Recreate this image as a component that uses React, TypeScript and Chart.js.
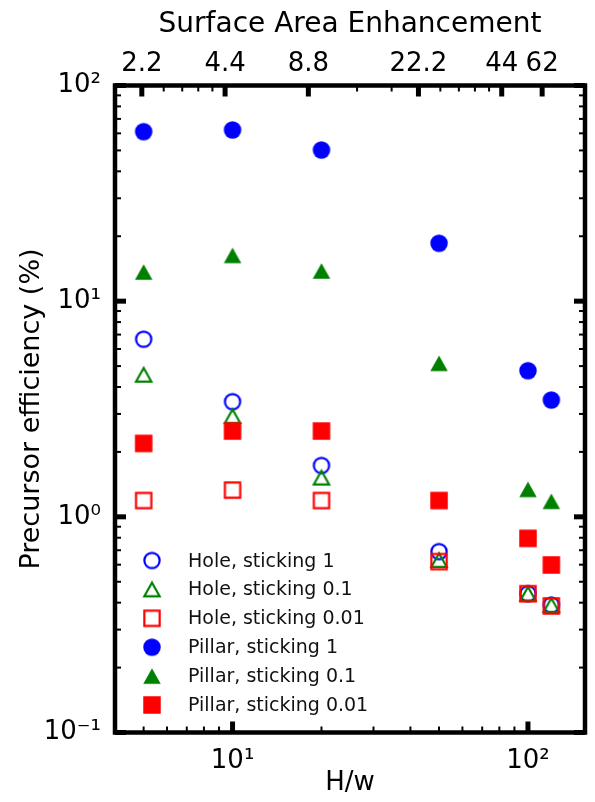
import React, { useEffect, useRef } from 'react';
import { Chart, registerables } from 'chart.js';

Chart.register(...registerables);

// ---------------- data ----------------
const hw = [5, 10, 20, 50, 100, 120];
const holeS1 = [6.66, 3.42, 1.73, 0.69, 0.44, 0.39];
const holeS01 = [4.56, 2.93, 1.52, 0.63, 0.44, 0.39];
const holeS001 = [1.19, 1.33, 1.19, 0.62, 0.44, 0.386];
const pillarS1 = [61.1, 62.2, 50.2, 18.55, 4.76, 3.48];
const pillarS01 = [13.65, 16.3, 13.8, 5.15, 1.34, 1.18];
const pillarS001 = [2.19, 2.5, 2.5, 1.19, 0.795, 0.598];

const seriesLabels = [
  'Hole, sticking 1',
  'Hole, sticking 0.1',
  'Hole, sticking 0.01',
  'Pillar, sticking 1',
  'Pillar, sticking 0.1',
  'Pillar, sticking 0.01',
];
const seriesValues = [holeS1, holeS01, holeS001, pillarS1, pillarS01, pillarS001];
const seriesColors = ['#0000ff', '#008000', '#ff0000', '#0000ff', '#008000', '#ff0000'];
const seriesShapes = ['circle', 'triangle', 'square', 'circle', 'triangle', 'square'];
const seriesFilled = [false, false, false, true, true, true];

// axes
const xMin = 4;
const xMax = 156;
const topMin = 4;
const topMax = 200;
const yMin = 0.1;
const yMax = 100;

const bottomTickVals = [10, 100];
const bottomTickLabels = ['10\u00B9', '10\u00B2'];
const leftTickVals = [0.1, 1, 10, 100];
const leftTickLabels = ['10\u207B\u00B9', '10\u2070', '10\u00B9', '10\u00B2'];
const topTickVals = [5, 10, 20, 50, 100, 140];
const topTickLabels = ['2.2', '4.4', '8.8', '22.2', '44', '62'];
const bottomMinor = [5, 6, 7, 8, 9, 20, 30, 40, 50, 60, 70, 80, 90];
const topMinor = [6, 7, 8, 9, 30, 40, 60, 70, 80, 90];
const leftMinor = [
  0.2, 0.3, 0.4, 0.5, 0.6, 0.7, 0.8, 0.9,
  2, 3, 4, 5, 6, 7, 8, 9,
  20, 30, 40, 50, 60, 70, 80, 90,
];

const FONT = "'DejaVu Sans', sans-serif";

function makeMarker(shape: string, color: string, filled: boolean) {
  const S = 26;
  const c = document.createElement('canvas');
  c.width = S;
  c.height = S;
  const g = c.getContext('2d') as CanvasRenderingContext2D;
  const m = S / 2;
  const lw = 2.2;
  const outer = 17.5;
  const r = filled ? outer / 2 : (outer - lw) / 2;
  g.beginPath();
  if (shape === 'circle') {
    g.arc(m, m, r, 0, Math.PI * 2);
  } else if (shape === 'square') {
    g.rect(m - r, m - r, 2 * r, 2 * r);
  } else {
    const hh = r * (15.5 / 17.5);
    g.moveTo(m, m - hh);
    g.lineTo(m + r, m + hh);
    g.lineTo(m - r, m + hh);
    g.closePath();
  }
  if (filled) {
    g.fillStyle = color;
    g.fill();
  } else {
    g.lineWidth = lw;
    g.strokeStyle = color;
    g.stroke();
  }
  return c;
}

const framePlugin = {
  id: 'frameTicks',
  beforeDatasetsDraw(chart: any) {
    const { ctx, chartArea: a, scales } = chart;
    const majorLen = 11;
    const majorW = 5;
    const minorLen = 6;
    const minorW = 2;
    ctx.save();
    ctx.strokeStyle = '#000';
    const vLine = (x: number, y0: number, y1: number, w: number) => {
      ctx.lineWidth = w;
      ctx.beginPath();
      ctx.moveTo(x, y0);
      ctx.lineTo(x, y1);
      ctx.stroke();
    };
    const hLine = (y: number, x0: number, x1: number, w: number) => {
      ctx.lineWidth = w;
      ctx.beginPath();
      ctx.moveTo(x0, y);
      ctx.lineTo(x1, y);
      ctx.stroke();
    };
    const xs = scales.x;
    const xt = scales.xTop;
    const ys = scales.y;
    bottomTickVals.forEach((v) => vLine(xs.getPixelForValue(v), a.bottom, a.bottom - majorLen, majorW));
    bottomMinor.forEach((v) => vLine(xs.getPixelForValue(v), a.bottom, a.bottom - minorLen, minorW));
    topTickVals.forEach((v) => vLine(xt.getPixelForValue(v), a.top, a.top + majorLen, majorW));
    topMinor.forEach((v) => vLine(xt.getPixelForValue(v), a.top, a.top + minorLen, minorW));
    leftTickVals.forEach((v) => {
      const y = ys.getPixelForValue(v);
      hLine(y, a.left, a.left + majorLen, majorW);
      hLine(y, a.right, a.right - majorLen, majorW);
    });
    leftMinor.forEach((v) => {
      const y = ys.getPixelForValue(v);
      hLine(y, a.left, a.left + minorLen, minorW);
      hLine(y, a.right, a.right - minorLen, minorW);
    });
    ctx.lineWidth = 4.5;
    ctx.lineJoin = 'miter';
    ctx.strokeRect(a.left, a.top, a.right - a.left, a.bottom - a.top);
    ctx.restore();
  },
  afterDatasetsDraw(chart: any) {
    const { ctx } = chart;
    const x0 = 152;
    const y0 = 560.5;
    const dy = 28.9;
    ctx.save();
    ctx.font = `19px ${FONT}`;
    ctx.fillStyle = '#111';
    ctx.textAlign = 'left';
    ctx.textBaseline = 'alphabetic';
    chart.data.datasets.forEach((ds: any, i: number) => {
      const y = y0 + dy * i;
      const img = ds.pointStyle as HTMLCanvasElement;
      ctx.drawImage(img, x0 - img.width / 2, y - img.height / 2);
      ctx.fillText(ds.label, 188, y + 6);
    });
    ctx.restore();
  },
};

export default function App() {
  const ref = useRef<HTMLCanvasElement | null>(null);
  useEffect(() => {
    if (!ref.current) return;
    Chart.defaults.font.family = FONT;
    Chart.defaults.color = '#000';
    const datasets = seriesLabels.map((label, i) => ({
      label,
      data: hw.map((x, j) => ({ x, y: seriesValues[i][j] })),
      pointStyle: makeMarker(seriesShapes[i], seriesColors[i], seriesFilled[i]),
      pointRadius: 9,
      pointHoverRadius: 9,
      showLine: false,
      borderColor: seriesColors[i],
      backgroundColor: seriesColors[i],
      order: 6 - i,
    }));
    const chart = new Chart(ref.current, {
      type: 'scatter',
      data: { datasets },
      plugins: [framePlugin],
      options: {
        animation: false,
        responsive: false,
        maintainAspectRatio: false,
        events: [],
        layout: { padding: { left: 0, right: 5, top: 0, bottom: 0 } },
        plugins: { legend: { display: false }, tooltip: { enabled: false } },
        scales: {
          x: {
            type: 'logarithmic',
            position: 'bottom',
            min: xMin,
            max: xMax,
            grid: { display: false, drawTicks: false },
            border: { display: false },
            afterBuildTicks: (s: any) => {
              s.ticks = bottomTickVals.map((v) => ({ value: v }));
            },
            afterFit: (s: any) => {
              s.height = 69.5;
            },
            ticks: {
              autoSkip: false,
              maxRotation: 0,
              padding: 13,
              font: { size: 26 },
              color: '#000',
              callback: (v: any) => {
                const k = bottomTickVals.indexOf(Number(v));
                return k >= 0 ? bottomTickLabels[k] : '';
              },
            },
            title: {
              display: true,
              text: 'H/w',
              font: { size: 26 },
              color: '#000',
              padding: { top: 0, bottom: 3 },
            },
          },
          xTop: {
            type: 'logarithmic',
            position: 'top',
            min: topMin,
            max: topMax,
            grid: { display: false, drawTicks: false },
            border: { display: false },
            afterBuildTicks: (s: any) => {
              s.ticks = topTickVals.map((v) => ({ value: v }));
            },
            afterFit: (s: any) => {
              s.height = 85.5;
            },
            ticks: {
              autoSkip: false,
              maxRotation: 0,
              padding: 6,
              font: { size: 26 },
              color: '#000',
              callback: (v: any) => {
                const k = topTickVals.indexOf(Number(v));
                return k >= 0 ? topTickLabels[k] : '';
              },
            },
            title: {
              display: true,
              text: 'Surface Area Enhancement',
              font: { size: 28 },
              color: '#000',
              padding: { top: 8, bottom: 0 },
            },
          },
          y: {
            type: 'logarithmic',
            position: 'left',
            min: yMin,
            max: yMax,
            grid: { display: false, drawTicks: false },
            border: { display: false },
            afterBuildTicks: (s: any) => {
              s.ticks = leftTickVals.map((v) => ({ value: v }));
            },
            afterFit: (s: any) => {
              s.width = 115;
            },
            ticks: {
              autoSkip: false,
              padding: 14,
              font: { size: 26 },
              color: '#000',
              callback: (v: any) => {
                const k = leftTickVals.indexOf(Number(v));
                return k >= 0 ? leftTickLabels[k] : '';
              },
            },
            title: {
              display: true,
              text: 'Precursor efficiency (%)',
              font: { size: 27 },
              color: '#000',
              padding: { top: 16, bottom: 0 },
            },
          },
        },
      },
    } as any);
    return () => chart.destroy();
  }, []);
  return (
    <div style={{ position: 'absolute', left: 0, top: 0, width: 595, height: 802, background: '#fff' }}>
      <canvas ref={ref} width={595} height={802} style={{ display: 'block' }} />
    </div>
  );
}
